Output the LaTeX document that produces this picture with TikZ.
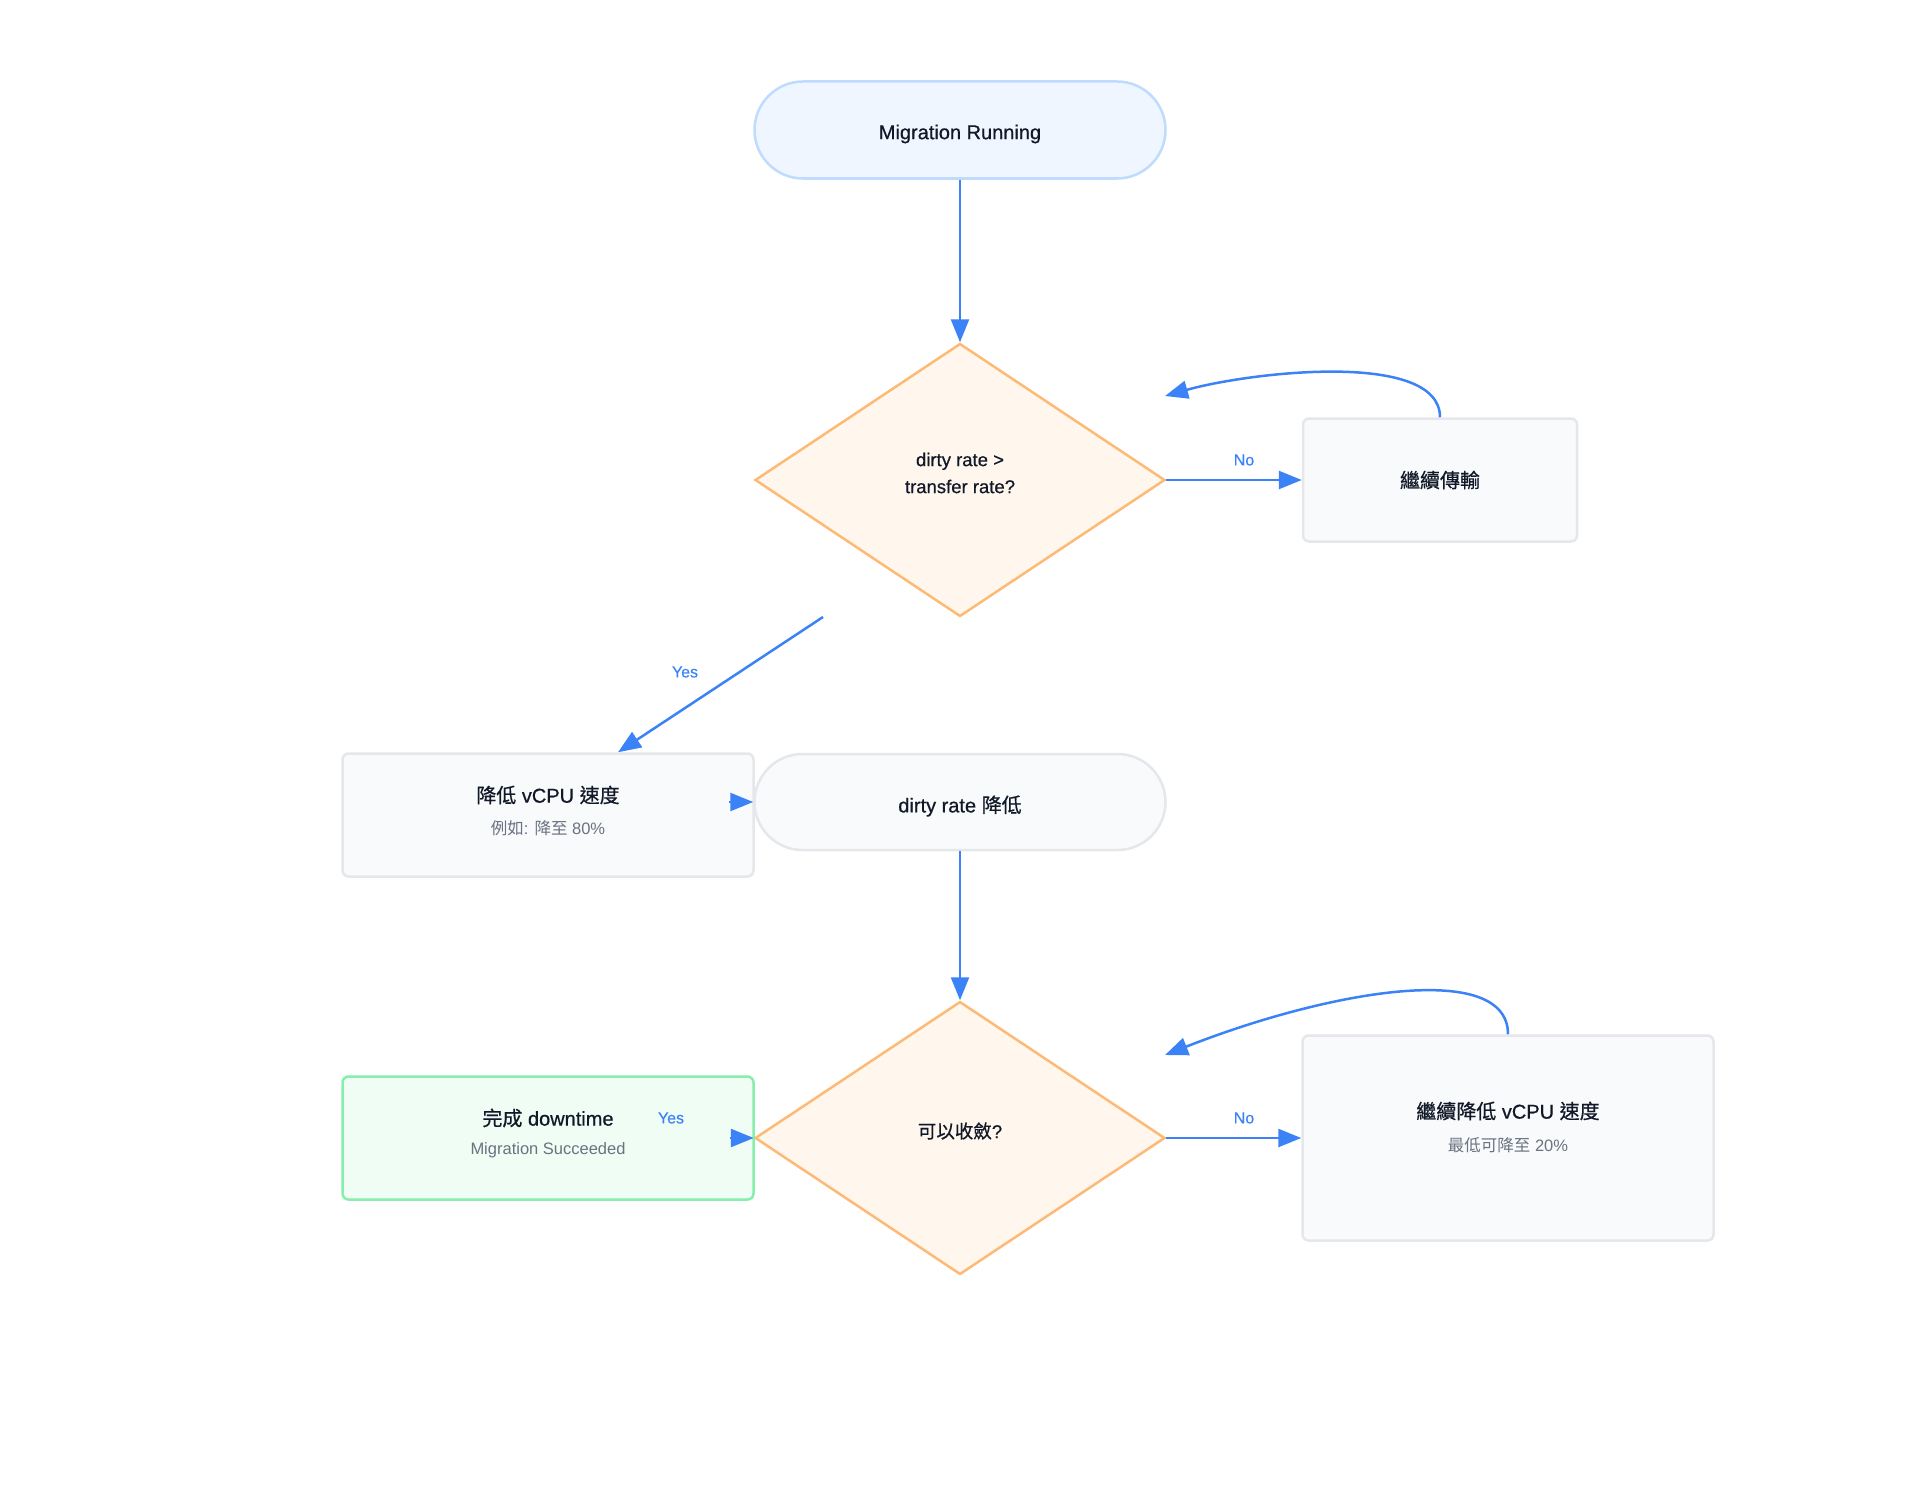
\documentclass[tikz,border=0pt]{standalone}
\usepackage{fontspec}
\setmainfont{Liberation Sans}
\newfontfamily\cjk{Noto Sans CJK TC}
\newcommand\zht[1]{{\cjk\addfontfeatures{FakeBold=0.6}#1}}
\newcommand\zhs[1]{{\cjk #1}}
\usetikzlibrary{arrows.meta,shapes.geometric,shapes.misc}
\definecolor{startfill}{HTML}{EFF6FF}
\definecolor{startline}{HTML}{BFDBFE}
\definecolor{decfill}{HTML}{FFF7ED}
\definecolor{decline}{HTML}{FDBA74}
\definecolor{procfill}{HTML}{F8FAFC}
\definecolor{procline}{HTML}{E5E7EB}
\definecolor{okfill}{HTML}{F0FDF4}
\definecolor{okline}{HTML}{86EFAC}
\definecolor{arrowblue}{HTML}{3B82F6}
\definecolor{maintext}{HTML}{111827}
\definecolor{subtext}{HTML}{6B7280}
\begin{document}
\begin{tikzpicture}[x=1pt,y=-1pt,
  every node/.style={text=maintext},
  title/.style={font=\fontsize{20}{24}\selectfont\addfontfeatures{FakeBold=0.6}},
  dectext/.style={font=\fontsize{18.5}{27}\selectfont\addfontfeatures{FakeBold=0.6}, align=center},
  subtitle/.style={font=\fontsize{16.5}{20}\selectfont, text=subtext},
  lbl/.style={font=\fontsize{16}{18}\selectfont\addfontfeatures{FakeBold=0.3}, text=arrowblue},
  stadium/.style={rounded rectangle, draw, line width=2.5pt, minimum width=411pt, inner sep=0pt},
  procbox/.style={rectangle, draw=procline, fill=procfill, line width=2.5pt, rounded corners=6pt, inner sep=0pt},
  decision/.style={diamond, draw=decline, fill=decfill, line width=2.5pt, minimum width=410pt, minimum height=273pt, inner sep=0pt},
  arr/.style={draw=arrowblue, line width=2.5pt, -{Triangle[length=23pt,width=18pt]}}
]
\useasboundingbox (0,0) rectangle (1920,1509);

% nodes
\node[stadium, draw=startline, fill=startfill, minimum height=97pt] (start) at (960,130) {};
\node[title] (startt) at (960,134) {Migration Running};
\node[decision] (d1) at (960,480) {};
\node[dectext] (d1t) at (960,473) {dirty rate >\\transfer rate?};
\node[procbox, minimum width=274pt, minimum height=123pt, title] (cont1) at (1440,480) {\zht{繼續傳輸}};

\node[procbox, minimum width=411pt, minimum height=123pt] (slow) at (548,815) {};
\node[title] (slowt) at (548,795) {\zht{降低} vCPU \zht{速度}};
\node[subtitle] (slows) at (548,828) {\zhs{例如}: \zhs{降至} 80\%};

\node[stadium, draw=procline, fill=procfill, minimum height=96pt] (dr) at (960,802) {};
\node[title] (drt) at (960,806) {dirty rate \zht{降低}};

\node[decision] (d2) at (960,1138) {};
\node[dectext] (d2t) at (960,1131) {\zht{可以收斂}?};

\node[procbox, draw=okline, fill=okfill, minimum width=411pt, minimum height=123pt] (done) at (548,1138) {};
\node[title] (donet) at (548,1118) {\zht{完成} downtime};
\node[subtitle] (dones) at (548,1150) {Migration Succeeded};

\node[procbox, minimum width=411pt, minimum height=205pt] (cont2) at (1508,1138) {};
\node[title] (cont2t) at (1508,1111) {\zht{繼續降低} vCPU \zht{速度}};
\node[subtitle] (cont2s) at (1508,1145) {\zhs{最低可降至} 20\%};

% coordinates
\coordinate (yesstart) at (823,617);
\coordinate (loopone) at (1165,396);
\coordinate (looptwo) at (1165,1055);

% connectors
\draw[arr] (start) -- (d1);
\draw[arr] (d1.east) -- (cont1.west);
\node[lbl] (nolbl1) at (1244,460) {No};
\draw[arr] (cont1.north) .. controls (1440,350) and (1250,372) .. (loopone);

\draw[arr] (yesstart) -- ([xshift=70pt]slow.north);
\node[lbl] (yeslbl1) at (685,672) {Yes};

\draw[arr] ([xshift=-24pt]dr.west) -- (dr.west);
\draw[arr] (dr) -- (d2);

\draw[arr] ([xshift=-24pt]d2.west) -- (d2.west);
\node[lbl] (yeslbl2) at (671,1118) {Yes};

\draw[arr] (d2.east) -- (cont2.west);
\node[lbl] (nolbl2) at (1244,1118) {No};
\draw[arr] (cont2.north) .. controls (1508,960) and (1330,990) .. (looptwo);
\end{tikzpicture}
\end{document}
